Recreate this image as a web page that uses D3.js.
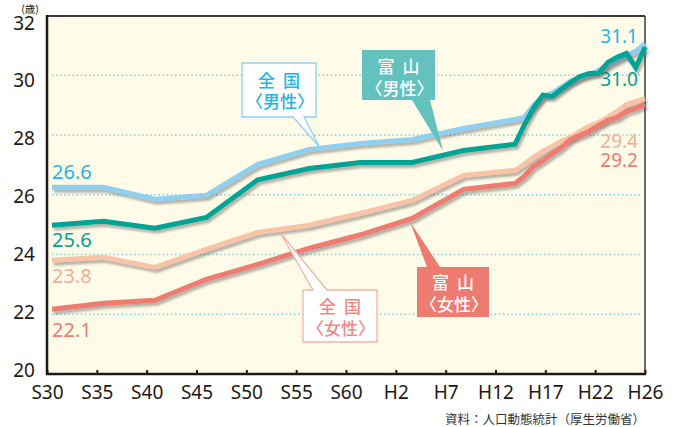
<!DOCTYPE html>
<html>
<head>
<meta charset="utf-8">
<script src="https://cdn.jsdelivr.net/npm/d3@7"></script>
<style>
  body { margin: 0; background: #fff; }
  svg { display: block; }
  .callout-text { font-feature-settings: "palt"; }
</style>
</head>
<body>
<div id="chart"></div>
<script>
// Data (years: S30=1955 ... H26=2014)
const years = [1955, 1960, 1965, 1970, 1975, 1980, 1985, 1990, 1995,
  2000, 2001, 2002, 2003, 2004, 2005, 2006, 2007, 2008, 2009, 2010, 2011, 2012, 2013, 2014];
const nationalMale = [26.25, 26.25, 25.85, 25.98, 27.02, 27.52, 27.72, 27.85, 28.22,
  28.52, 28.59, 28.99, 29.29, 29.4, 29.6, 29.8, 29.93, 30.03, 30.16, 30.33, 30.5, 30.66, 30.8, 31.06];
const toyamaMale = [24.98, 25.11, 24.88, 25.24, 26.5, 26.88, 27.08, 27.08, 27.48,
  27.69, 28.33, 28.9, 29.33, 29.29, 29.53, 29.76, 29.96, 30.06, 30.06, 30.43, 30.6, 30.73, 30.26, 30.93];
const nationalFemale = [23.81, 23.91, 23.57, 24.17, 24.74, 24.98, 25.38, 25.81, 26.65,
  26.82, 27.02, 27.25, 27.45, 27.62, 27.79, 27.92, 28.12, 28.29, 28.42, 28.59, 28.79, 29.02, 29.12, 29.22];
const toyamaFemale = [22.17, 22.37, 22.47, 23.17, 23.67, 24.21, 24.66, 25.21, 26.18,
  26.38, 26.62, 26.95, 27.15, 27.38, 27.58, 27.85, 27.99, 28.12, 28.32, 28.49, 28.59, 28.79, 28.89, 29.02];
const tickLabels = ['S30', 'S35', 'S40', 'S45', 'S50', 'S55', 'S60', 'H2', 'H7', 'H12', 'H17', 'H22', 'H26'];
const yTicks = [20, 22, 24, 26, 28, 30, 32];
const gridValues = [22, 24, 26, 28, 30];
const startLabels = ['26.6', '25.6', '23.8', '22.1'];
const endLabels = ['31.1', '31.0', '29.4', '29.2'];

const width = 677;
const height = 427;
const plot = { left: 47, right: 645, top: 16, bottom: 374 };

const colors = {
  nationalMale: '#8fd0f2',
  toyamaMale: '#00a496',
  nationalFemale: '#f8c3a7',
  toyamaFemale: '#ee7b70',
};
const textBlue = '#27b3e6';
const textPeach = '#f5ae98';
const axisColor = '#231815';

const svg = d3.select('#chart').append('svg')
  .attr('width', width)
  .attr('height', height);

const defs = svg.append('defs');
defs.append('filter')
  .attr('id', 'shadow')
  .attr('x', '-10%').attr('y', '-10%').attr('width', '120%').attr('height', '130%')
  .append('feDropShadow')
  .attr('dx', 2).attr('dy', 3)
  .attr('stdDeviation', 1.3)
  .attr('flood-color', '#4a4a4a')
  .attr('flood-opacity', 0.4);

// Scales
const x = d3.scaleLinear().domain([1955, 2000, 2014]).range([52, 515, 645]);
const y = d3.scaleLinear().domain([20, 32]).range([374, 15.5]);
const yLabel = d3.scaleLinear().domain([20, 32]).range([370, 23]);
const xTick = d3.scalePoint().domain(tickLabels).range([plot.left, plot.right]);

// Plot background
svg.append('rect')
  .attr('x', plot.left).attr('y', plot.top)
  .attr('width', plot.right - plot.left)
  .attr('height', plot.bottom - plot.top)
  .attr('fill', '#fefbe8');

// Grid
svg.append('g').selectAll('line')
  .data(gridValues)
  .enter().append('line')
  .attr('x1', 52).attr('x2', 642)
  .attr('y1', (d) => y(d)).attr('y2', (d) => y(d))
  .attr('stroke', '#86cdd6')
  .attr('stroke-width', 1.5)
  .attr('stroke-dasharray', '1.5 2.6');

// Frame
svg.append('line').attr('x1', plot.left).attr('x2', plot.right).attr('y1', plot.top).attr('y2', plot.top)
  .attr('stroke', '#3e3a39').attr('stroke-width', 2);
svg.append('line').attr('x1', plot.right).attr('x2', plot.right).attr('y1', plot.top).attr('y2', plot.bottom)
  .attr('stroke', '#3e3a39').attr('stroke-width', 1.5);

// Value labels (under the lines, as in the original)
const labelColors = [textBlue, colors.toyamaMale, textPeach, colors.toyamaFemale];
const startBaselines = [179, 247, 283, 337];
const endBaselines = [43, 86, 148, 167];

svg.append('g').selectAll('text')
  .data(startLabels)
  .enter().append('text')
  .attr('x', 52)
  .attr('y', (d, i) => startBaselines[i])
  .attr('fill', (d, i) => labelColors[i])
  .style('font', '20px "Noto Sans", sans-serif')
  .text((d) => d);

svg.append('g').selectAll('text')
  .data(endLabels)
  .enter().append('text')
  .attr('x', 638)
  .attr('y', (d, i) => endBaselines[i])
  .attr('text-anchor', 'end')
  .attr('fill', (d, i) => labelColors[i])
  .style('font', '19px "Noto Sans", sans-serif')
  .text((d) => d);

// Lines
const line = d3.line()
  .x((d, i) => x(years[i]))
  .y((d) => y(d));

const series = [
  { key: 'nationalMale', values: nationalMale },
  { key: 'nationalFemale', values: nationalFemale },
  { key: 'toyamaFemale', values: toyamaFemale },
  { key: 'toyamaMale', values: toyamaMale },
];

svg.append('g').selectAll('path')
  .data(series)
  .enter().append('path')
  .attr('d', (d) => line(d.values))
  .attr('fill', 'none')
  .attr('stroke', (d) => colors[d.key])
  .attr('stroke-width', 5)
  .attr('stroke-linejoin', 'miter')
  .attr('filter', 'url(#shadow)');

// Axes
const yAxis = svg.append('g')
  .attr('transform', `translate(${plot.left},0)`)
  .call(d3.axisLeft(yLabel).tickValues(yTicks).tickSize(0).tickPadding(12));
yAxis.select('.domain').remove();
yAxis.selectAll('text')
  .style('font', '19px "Noto Sans", sans-serif')
  .attr('fill', axisColor);

const xAxis = svg.append('g')
  .attr('transform', `translate(0,${plot.bottom})`)
  .call(d3.axisBottom(xTick).tickSize(-4).tickPadding(12));
xAxis.select('.domain').remove();
xAxis.selectAll('line').attr('stroke', axisColor).attr('stroke-width', 2);
xAxis.selectAll('text')
  .style('font', '19px "Noto Sans", sans-serif')
  .attr('fill', axisColor);

svg.append('line').attr('x1', plot.left).attr('x2', plot.left).attr('y1', plot.top - 1).attr('y2', plot.bottom + 1)
  .attr('stroke', axisColor).attr('stroke-width', 2.5);
svg.append('line').attr('x1', plot.left - 1).attr('x2', plot.right + 1).attr('y1', plot.bottom).attr('y2', plot.bottom)
  .attr('stroke', axisColor).attr('stroke-width', 2.5);

svg.append('text')
  .attr('x', 30).attr('y', 12.5)
  .attr('text-anchor', 'middle')
  .style('font', '10.5px "Noto Sans CJK JP", sans-serif')
  .attr('fill', axisColor)
  .text('(歳)');

// Callouts
function callout(path, fill, stroke, textColor, cx, lines, lineYs) {
  const g = svg.append('g');
  g.append('path')
    .attr('d', path)
    .attr('fill', fill)
    .attr('stroke', stroke)
    .attr('stroke-width', stroke === 'none' ? 0 : 1.3)
    .attr('stroke-linejoin', 'miter');
  lines.forEach((t, i) => {
    g.append('text')
      .attr('class', 'callout-text')
      .attr('x', cx)
      .attr('y', lineYs[i])
      .attr('text-anchor', 'middle')
      .attr('dominant-baseline', 'central')
      .attr('fill', textColor)
      .style('letter-spacing', i === 0 ? '2px' : '0px')
      .style('font', '500 17px "Noto Sans CJK JP", sans-serif')
      .text(t);
  });
}

const tipNM = [x(1981), y(27.6)];
const tipTM = [x(1993), y(27.47)];
const tipNF = [x(1977.2), y(24.72)];
const tipTF = [x(1989.8), y(25.1)];

callout(`M242,63H316V117H304L${tipNM[0]},${tipNM[1]}L293,117H242Z`,
  '#ffffff', colors.nationalMale, textBlue, 280, ['全 国', '〈男性〉'], [79, 100]);
callout(`M362,50H435V100H430L${tipTM[0]},${tipTM[1]}L412,100H362Z`,
  '#63c1be', 'none', '#ffffff', 399.5, ['富 山', '〈男性〉'], [65, 87]);
callout(`M303,290H313L${tipNF[0]},${tipNF[1]}L327,290H377V342H303Z`,
  '#ffffff', '#f5b2a5', '#ee8a85', 341, ['全 国', '〈女性〉'], [305, 327]);
callout(`M417,267H427L${tipTF[0]},${tipTF[1]}L440,267H489V317H417Z`,
  colors.toyamaFemale, 'none', '#ffffff', 454, ['富 山', '〈女性〉'], [281, 303]);

// Source
svg.append('text')
  .attr('x', 645).attr('y', 424)
  .attr('text-anchor', 'end')
  .attr('fill', '#333')
  .style('font', '12.5px "Noto Sans CJK JP", sans-serif')
  .text('資料：人口動態統計（厚生労働省）');
</script>
</body>
</html>
